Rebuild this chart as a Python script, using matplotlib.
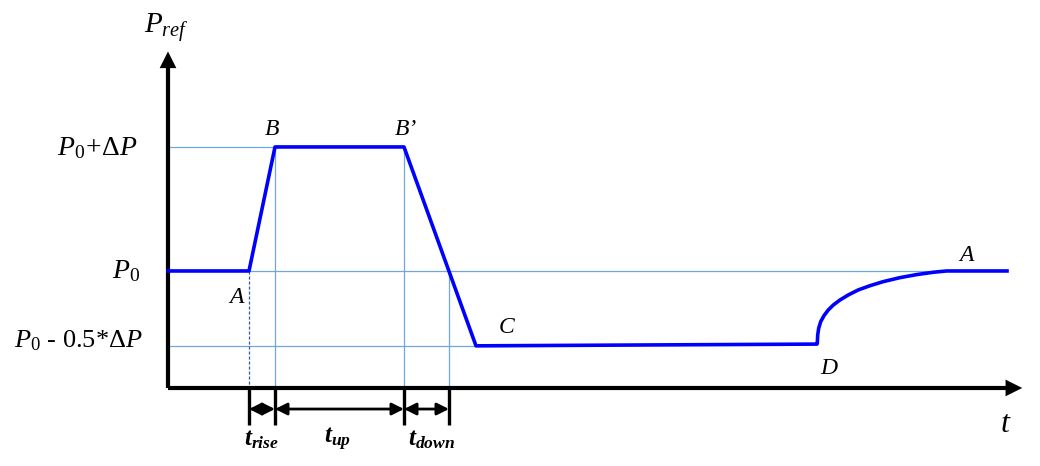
import matplotlib.pyplot as plt

plt.rcParams['mathtext.fontset'] = 'custom'
plt.rcParams['mathtext.rm'] = 'Liberation Serif'
plt.rcParams['mathtext.it'] = 'Liberation Serif:italic'
plt.rcParams['mathtext.bf'] = 'Liberation Serif:bold:italic'
plt.rcParams['font.family'] = 'Liberation Serif'

# power levels (P0 = 1)
p_low = 0.36
p_0 = 1.0
p_high = 2.06

# time instants
t_A = 0.81
t_B = 1.07
t_Bp = 2.36
t_X = 2.81   # where the ramp down crosses P0
t_C = 3.08
t_D = 6.49
t_end = 8.39

# reference profile
ramp_t = [0.0, t_A, t_B, t_Bp, t_C, t_D]
ramp_p = [p_0, p_0, p_high, p_high, p_low, 0.375]
# recovery D -> A
rec_t = [6.493, 6.497, 6.507, 6.527, 6.56, 6.603, 6.653, 6.72, 6.803,
         6.903, 7.02, 7.153, 7.32, 7.487, 7.653, 7.787, t_end]
rec_p = [0.382, 0.453, 0.51, 0.567, 0.618, 0.667, 0.709, 0.752, 0.795,
         0.838, 0.874, 0.909, 0.943, 0.969, 0.989, 1.0, 1.0]

fig = plt.figure(figsize=(10.4, 4.66), dpi=100)
ax = fig.add_axes([0, 0, 1, 1])
ax.set_xlim(-1.68, 8.72)
ax.set_ylim(-0.667, 3.316)
ax.axis('off')

guide = '#6fa8dc'
# thin guide lines
ax.plot([0, t_B], [p_high, p_high], color=guide, lw=0.9)
ax.plot([0, 7.6], [p_0, p_0], color=guide, lw=0.9)
ax.plot([0, t_C], [p_low, p_low], color=guide, lw=0.9)
ax.plot([t_A, t_A], [p_0, -0.1], color='#2e5fa8', lw=0.9, ls=(0, (2.5, 1.5)))
ax.plot([t_B, t_B], [p_high, -0.1], color=guide, lw=0.9)
ax.plot([t_Bp, t_Bp], [p_high, -0.1], color=guide, lw=0.9)
ax.plot([t_X, t_X], [p_0, -0.1], color=guide, lw=0.9)

# profile
ax.plot(ramp_t + rec_t, ramp_p + rec_p, color='#0000ff', lw=2.6,
        solid_joinstyle='round', zorder=3)

# axes with arrows
ax.plot([0, 0], [0, 2.75], color='black', lw=3, solid_capstyle='butt')
ax.plot([0, 8.45], [0, 0], color='black', lw=3, solid_capstyle='butt')
ax.annotate('', xy=(0, 2.90), xytext=(0, 2.7),
            arrowprops=dict(arrowstyle='-|>', color='black', lw=0, mutation_scale=30))
ax.annotate('', xy=(8.57, 0), xytext=(8.4, 0),
            arrowprops=dict(arrowstyle='-|>', color='black', lw=0, mutation_scale=30))

# interval markers below the time axis
for tk in [t_A, t_B, t_Bp, t_X]:
    ax.plot([tk, tk], [0, -0.32], color='black', lw=2.4, solid_capstyle='butt')
for a, b in [(t_A, t_B), (t_B, t_Bp), (t_Bp, t_X)]:
    ax.annotate('', xy=(a, -0.18), xytext=(b, -0.18),
                arrowprops=dict(arrowstyle='<|-|>', color='black', lw=2,
                                mutation_scale=18, shrinkA=0, shrinkB=0))

# labels
ax.text(-0.02, 3.08, r'$P_{ref}$', fontsize=21, ha='center', va='center')
ax.text(-0.30, 2.05, r'$P_0\!+\!\Delta P$', fontsize=20, ha='right', va='center')
ax.text(-0.28, 1.0, r'$P_0$', fontsize=20, ha='right', va='center')
ax.text(-0.25, 0.40, r'$P_0$ - 0.5*$\Delta P$', fontsize=19, ha='right', va='center')

ax.text(0.68, 0.77, 'A', fontsize=17, style='italic', ha='center', va='center')
ax.text(1.04, 2.21, 'B', fontsize=17, style='italic', ha='center', va='center')
ax.text(2.38, 2.21, 'B\u2019', fontsize=17, style='italic', ha='center', va='center')
ax.text(3.39, 0.52, 'C', fontsize=17, style='italic', ha='center', va='center')
ax.text(6.61, 0.17, 'D', fontsize=17, style='italic', ha='center', va='center')
ax.text(7.98, 1.13, 'A', fontsize=17, style='italic', ha='center', va='center')
ax.text(8.38, -0.31, r'$t$', fontsize=23, ha='center', va='center')

ax.text(0.94, -0.44, r'$\mathbf{t_{rise}}$', fontsize=18, ha='center', va='center')
ax.text(1.70, -0.44, r'$\mathbf{t_{up}}$', fontsize=18, ha='center', va='center')
ax.text(2.64, -0.44, r'$\mathbf{t_{down}}$', fontsize=18, ha='center', va='center')

fig.savefig('out.png', dpi=100)
